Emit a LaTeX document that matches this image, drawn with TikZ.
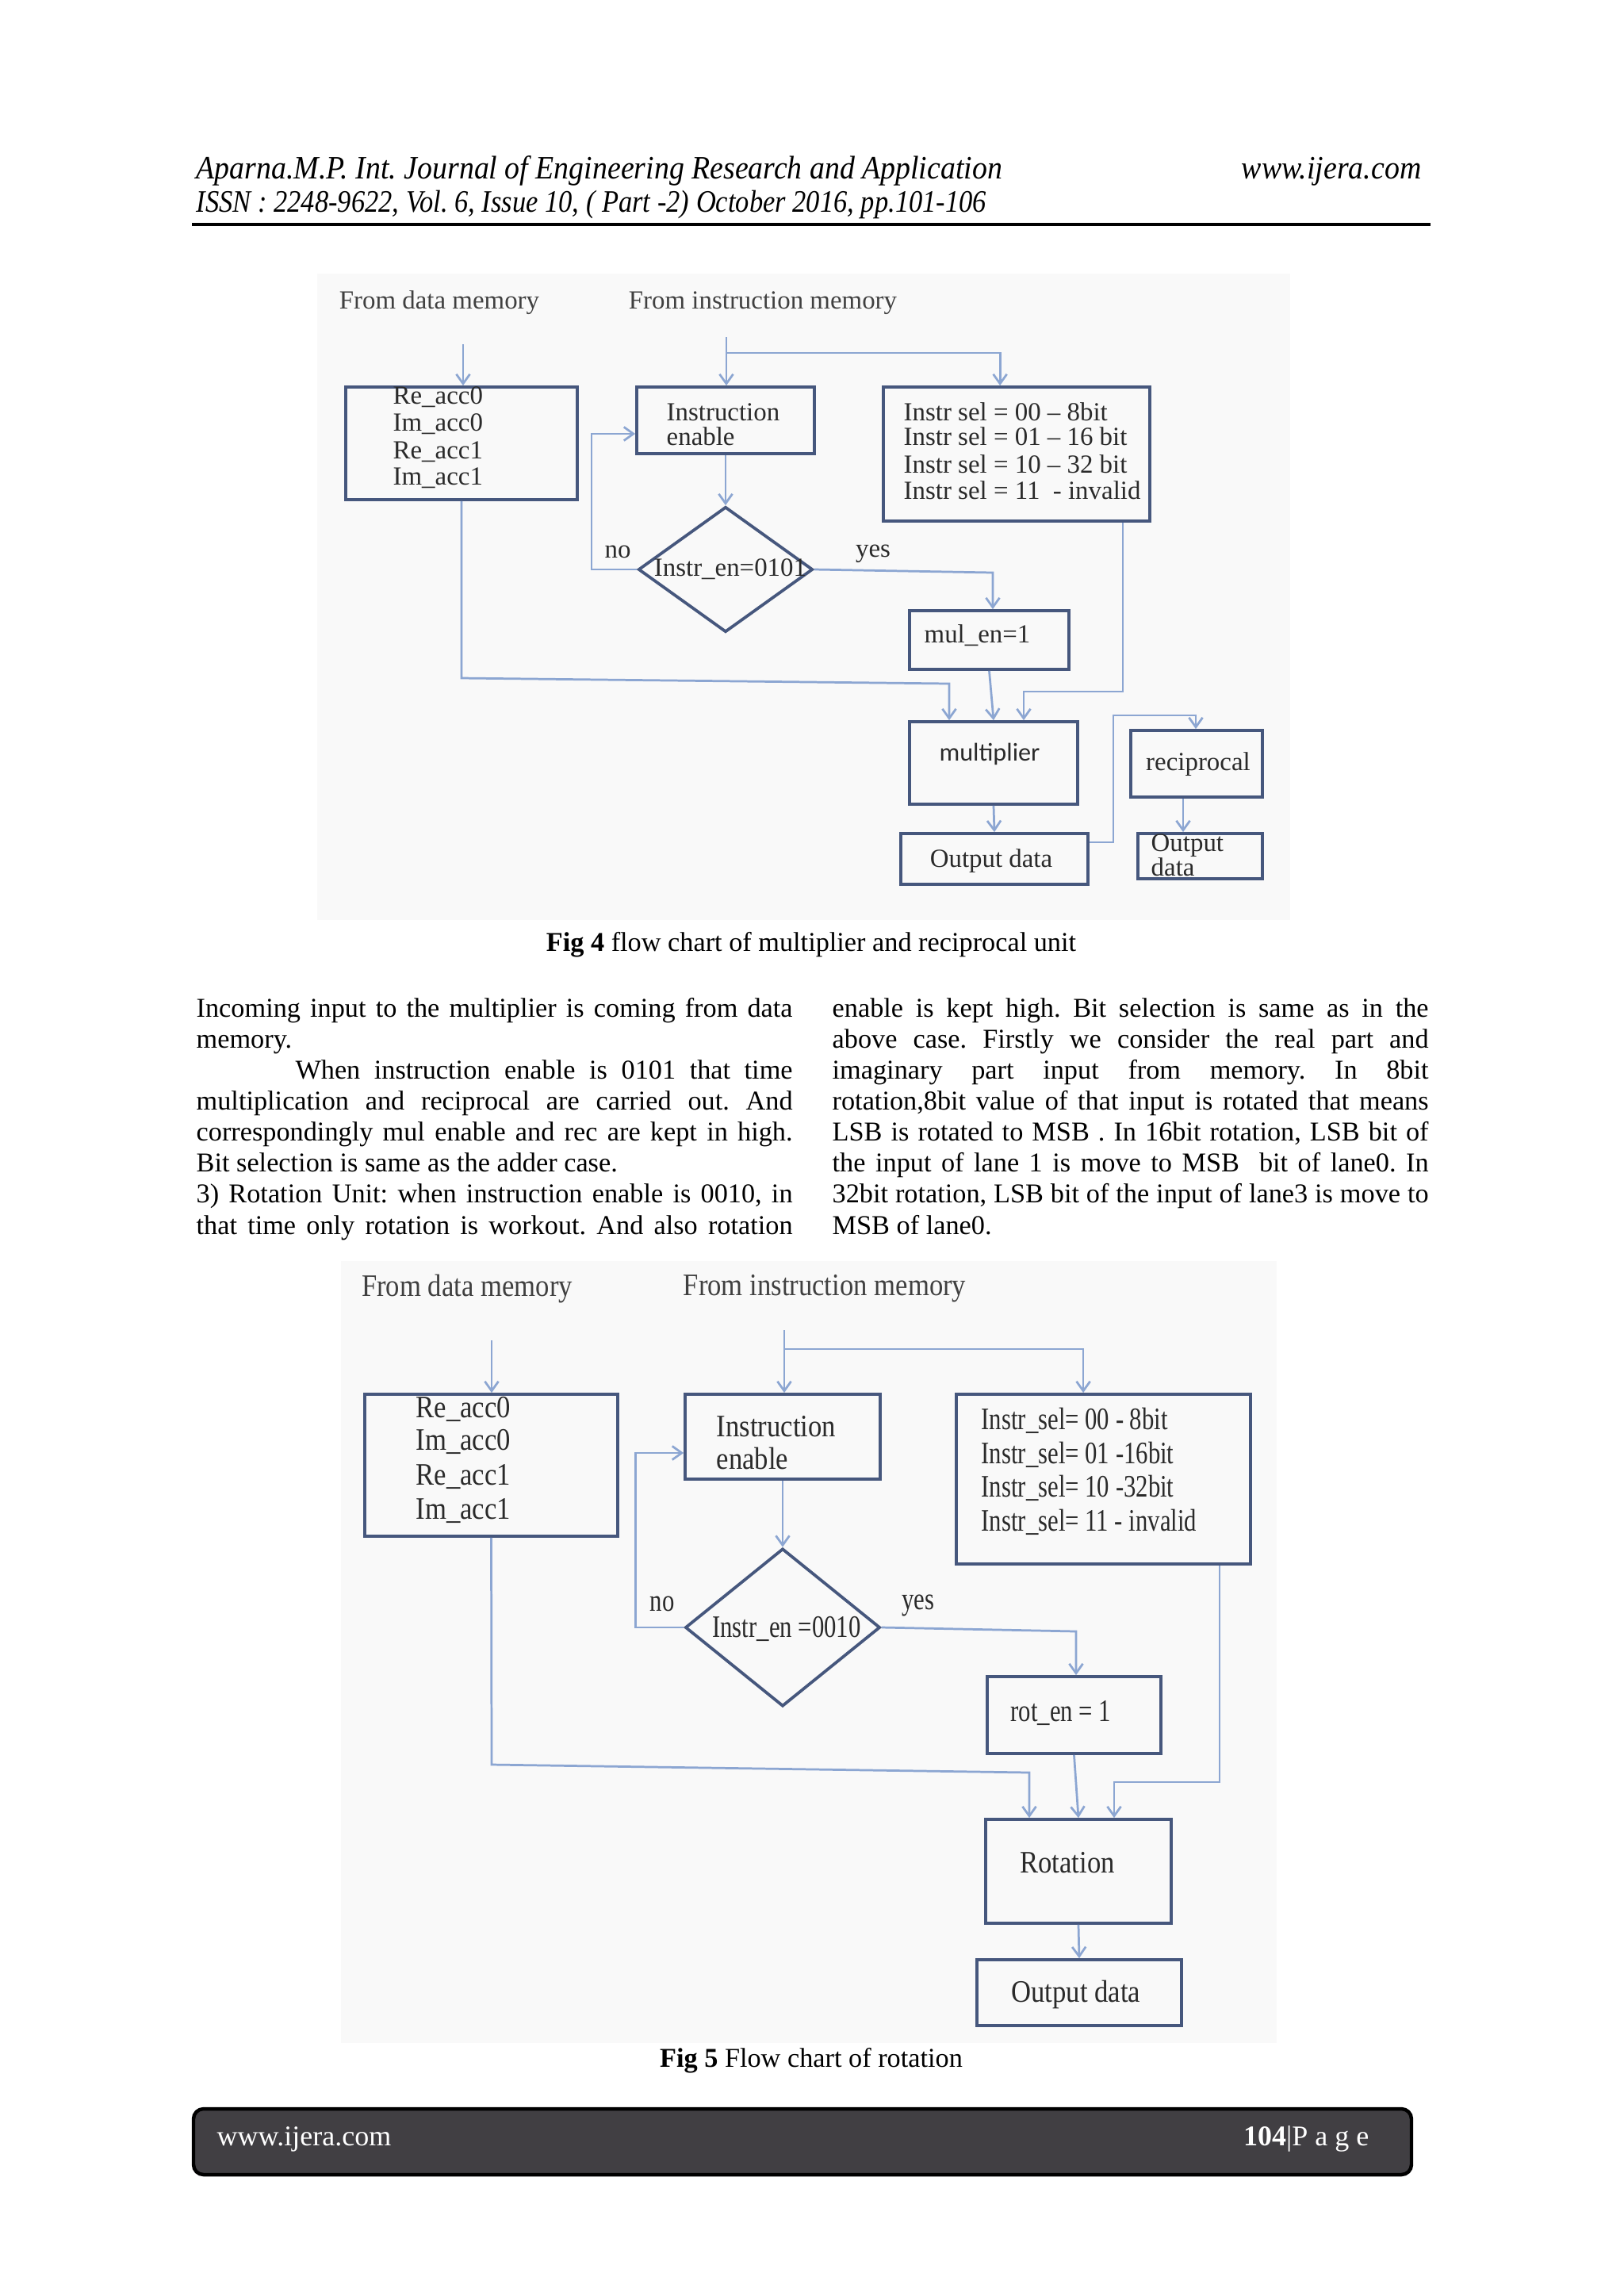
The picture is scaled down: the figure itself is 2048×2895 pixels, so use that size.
\documentclass[tikz,border=0pt]{standalone}
\usepackage{fontspec}
\setmainfont{Liberation Serif}
\newfontfamily\fivefam[FakeStretch=0.88]{Liberation Serif}
\newfontfamily\selfam[FakeStretch=0.78]{Liberation Serif}
\newfontfamily\hdrfam[FakeStretch=0.92]{Liberation Serif}
\newfontfamily\hdrfamb[FakeStretch=0.875]{Liberation Serif}
\newfontfamily\calfam{Carlito}
\usetikzlibrary{arrows.meta,shapes.geometric,fit}
\frenchspacing
\definecolor{boxc}{HTML}{46577D}
\definecolor{linec}{HTML}{8CA6D2}
\definecolor{txtc}{HTML}{2A2A2A}
\definecolor{figbg}{HTML}{F9F9F9}
\definecolor{footc}{HTML}{413F43}
\tikzset{
  box/.style={draw=boxc, line width=1.1pt, inner sep=0pt},
  dia/.style={draw=boxc, line width=1.1pt, shape=diamond, inner sep=0pt},
  conn/.style={draw=linec, line width=0.8pt, -{Straight Barb[length=3.5pt,width=5pt]}},
  ftxt/.style={text=txtc, inner sep=0pt, font=\fontsize{9.6}{11}\selectfont},
  vtxt/.style={text=txtc, inner sep=0pt, font=\fivefam\fontsize{11.5}{13}\selectfont},
  stxt/.style={text=txtc, inner sep=0pt, font=\selfam\fontsize{11.5}{13}\selectfont},
  body/.style={inner sep=0pt, align=left, font=\fontsize{10}{11.4}\selectfont\frenchspacing},
}
\newcommand{\jl}[1]{\makebox[77.1mm][s]{#1}}
\begin{document}
\begin{tikzpicture}[x=0.1025390625mm, y=-0.1025390625mm]
\useasboundingbox (0,0) rectangle (2048,2895);
\fill[white] (0,0) rectangle (2048,2895);
% figure backgrounds
\fill[figbg] (400,345) rectangle (1627,1160);
\fill[figbg] (430,1590) rectangle (1610,2576);

% header
\node[anchor=mid west, inner sep=0pt, font=\hdrfam\itshape\fontsize{12}{14}\selectfont] (h1) at (247,218) {Aparna.M.P. Int. Journal of Engineering Research and Application};
\node[anchor=mid east, inner sep=0pt, font=\hdrfam\itshape\fontsize{12}{14}\selectfont] (h2) at (1793,218) {www.ijera.com};
\node[anchor=mid west, inner sep=0pt, font=\hdrfamb\itshape\fontsize{11.5}{13}\selectfont] (h3) at (247,260) {ISSN : 2248-9622, Vol. 6, Issue 10, ( Part -2) October 2016, pp.101-106};
\draw[line width=1pt] (242,283) -- (1804,283);

% ===== Fig 4 =====
\node[ftxt, text=black!75] (fdm4) at (554,382) {From data memory};
\node[ftxt, text=black!75] (fim4) at (962,382) {From instruction memory};
\node[box, fit={(436,488)(728,630)}] (re4) {};
\node[box, fit={(803,488)(1027,572)}] (ie4) {};
\node[box, fit={(1114,488)(1450,657)}] (is4) {};
\node[dia, minimum width=22.56mm, minimum height=16.2mm] (d4) at (915,718) {};
\node[box, fit={(1147,770)(1348,844)}] (mul4) {};
\node[box, fit={(1147,910)(1359,1014)}] (mu4) {};
\node[box, fit={(1136,1051)(1372,1115)}] (od4) {};
\node[box, fit={(1426,921)(1592,1005)}] (rc4) {};
\node[box, fit={(1435,1051)(1592,1108)}] (od4b) {};

\node[ftxt, anchor=mid west] (t4a) at (495,502) {Re\_acc0};
\node[ftxt, anchor=mid west] (t4b) at (495,536) {Im\_acc0};
\node[ftxt, anchor=mid west] (t4c) at (495,571) {Re\_acc1};
\node[ftxt, anchor=mid west] (t4d) at (495,604) {Im\_acc1};
\node[ftxt, anchor=mid west] (t4e) at (840,523) {Instruction};
\node[ftxt, anchor=mid west] (t4f) at (840,554) {enable};
\node[ftxt, anchor=mid west] (t4g) at (1139,523) {Instr sel = 00 – 8bit};
\node[ftxt, anchor=mid west] (t4h) at (1139,554) {Instr sel = 01 – 16 bit};
\node[ftxt, anchor=mid west] (t4i) at (1139,589) {Instr sel = 10 – 32 bit};
\node[ftxt, anchor=mid west] (t4j) at (1139,622) {Instr sel = 11 \ - invalid};
\node[ftxt] (t4k) at (921,718) {Instr\_en=0101};
\node[ftxt] (t4l) at (779,696) {no};
\node[ftxt] (t4m) at (1101,698) {yes};
\node[ftxt, anchor=mid west] (t4n) at (1165,803) {mul\_en=1};
\node[ftxt, font=\calfam\fontsize{9.4}{11}\selectfont] (t4o) at (1248,951) {multiplier};
\node[ftxt] (t4p) at (1250,1086) {Output data};
\node[ftxt] (t4q) at (1511,964) {reciprocal};
\node[ftxt, anchor=mid west] (t4r) at (1451,1066) {Output};
\node[ftxt, anchor=mid west] (t4s) at (1451,1097) {data};

\coordinate (dm4) at (584,434);
\draw[conn] (dm4) -- (dm4 |- re4.north);
\coordinate (im4) at (916,425);
\draw[conn] (im4) -- (im4 |- ie4.north);
\coordinate (br4) at (916,445);
\draw[conn] (br4) -| ([xshift=15.28mm]is4.north west);
\draw[conn] (ie4.south) -- (d4.north);
\draw[conn] (d4.west) -- ++(-57,0) |- ([yshift=-1.74mm]ie4.west);
\coordinate (y4) at (1252,722);
\draw[conn] (d4.east) -- (y4) -- (y4 |- mul4.north);
\coordinate (c4a) at (582,855);
\coordinate (c4b) at (1197,862);
\draw[conn] (re4.south) -- (c4a) -- (c4b) -- (c4b |- mu4.north);
\draw[conn] (mul4.south) -- (mu4.north);
\coordinate (c4c) at (1416,872);
\coordinate (c4d) at (1291,872);
\draw[conn] (is4.south -| c4c) -- (c4c) -- (c4d) -- (c4d |- mu4.north);
\draw[conn] (mu4.south) -- (od4.north);
\coordinate (c4e) at (1404,902);
\coordinate (c4f) at (1508,902);
\draw[conn] ([yshift=2.15mm]od4.east) -| (c4e) -- (c4f) -- (c4f |- rc4.north);
\draw[conn] ([xshift=-1.74mm]rc4.south) -- ([xshift=-1.74mm]rc4.south |- od4b.north);

\node[inner sep=0pt, font=\fontsize{10}{12}\selectfont] (cap4) at (1023,1191) {\textbf{Fig 4} flow chart of multiplier and reciprocal unit};

% ===== body text =====
\node[body, anchor=base west] (lcol) at (247,1556) {%
\jl{Incoming input to the multiplier is coming from data}\\
memory.\\
\jl{\hspace*{12.8mm}When instruction enable is 0101 that time}\\
\jl{multiplication and reciprocal are carried out. And}\\
\jl{correspondingly mul enable and rec are kept in high.}\\
Bit selection is same as the adder case.\\
\jl{3) Rotation Unit: when instruction enable is 0010, in}\\
\jl{that time only rotation is workout. And also rotation}};
\node[body, anchor=base west] (rcol) at (1049,1556) {%
\jl{enable is kept high. Bit selection is same as in the}\\
\jl{above case. Firstly we consider the real part and}\\
\jl{imaginary part input from memory. In 8bit}\\
\jl{rotation,8bit value of that input is rotated that means}\\
\jl{LSB is rotated to MSB . In 16bit rotation, LSB bit of}\\
\jl{the input of lane 1 is move to MSB\ \ bit of lane0. In}\\
\jl{32bit rotation, LSB bit of the input of lane3 is move to}\\
MSB of lane0.};

% ===== Fig 5 =====
\node[vtxt, text=black!75] (fdm5) at (589,1625) {From data memory};
\node[vtxt, text=black!75] (fim5) at (1040,1625) {From instruction memory};
\node[box, fit={(460,1758)(779,1937)}] (re5) {};
\node[box, fit={(864,1758)(1110,1865)}] (ie5) {};
\node[box, fit={(1206,1758)(1577,1972)}] (is5) {};
\node[dia, minimum width=25.2mm, minimum height=20.4mm] (d5) at (987,2052) {};
\node[box, fit={(1245,2114)(1464,2211)}] (ro5) {};
\node[box, fit={(1243,2294)(1477,2425)}] (rt5) {};
\node[box, fit={(1232,2471)(1490,2554)}] (od5) {};

\node[vtxt, anchor=mid west] (t5a) at (524,1780) {Re\_acc0};
\node[vtxt, anchor=mid west] (t5b) at (524,1821) {Im\_acc0};
\node[vtxt, anchor=mid west] (t5c) at (524,1865) {Re\_acc1};
\node[vtxt, anchor=mid west] (t5d) at (524,1908) {Im\_acc1};
\node[vtxt, anchor=mid west] (t5e) at (903,1804) {Instruction};
\node[vtxt, anchor=mid west] (t5f) at (903,1845) {enable};
\node[stxt, anchor=mid west] (t5g) at (1237,1795) {Instr\_sel= 00 - 8bit};
\node[stxt, anchor=mid west] (t5h) at (1237,1838) {Instr\_sel= 01 -16bit};
\node[stxt, anchor=mid west] (t5i) at (1237,1880) {Instr\_sel= 10 -32bit};
\node[stxt, anchor=mid west] (t5j) at (1237,1923) {Instr\_sel= 11 - invalid};
\node[stxt] (t5k) at (992,2054) {Instr\_en =0010};
\node[stxt] (t5l) at (835,2022) {no};
\node[stxt] (t5m) at (1158,2024) {yes};
\node[stxt, anchor=mid west] (t5n) at (1274,2163) {rot\_en = 1};
\node[vtxt] (t5o) at (1346,2349) {Rotation};
\node[vtxt] (t5p) at (1357,2515) {Output data};

\coordinate (dm5) at (620,1690);
\draw[conn] (dm5) -- (dm5 |- re5.north);
\coordinate (im5) at (989,1677);
\draw[conn] (im5) -- (im5 |- ie5.north);
\coordinate (br5) at (989,1701);
\draw[conn] (br5) -| ([xshift=16.61mm]is5.north west);
\draw[conn] (ie5.south) -- (d5.north);
\draw[conn] (d5.west) -- ++(-61,0) |- ([yshift=-2.1mm]ie5.west);
\coordinate (y5) at (1357,2057);
\draw[conn] (d5.east) -- (y5) -- (y5 |- ro5.north);
\coordinate (c5a) at (620,2225);
\coordinate (c5b) at (1298,2235);
\draw[conn] (re5.south) -- (c5a) -- (c5b) -- (c5b |- rt5.north);
\draw[conn] (ro5.south) -- (rt5.north);
\coordinate (c5c) at (1538,2247);
\coordinate (c5d) at (1405,2247);
\draw[conn] (is5.south -| c5c) -- (c5c) -- (c5d) -- (c5d |- rt5.north);
\draw[conn] (rt5.south) -- (od5.north);

\node[inner sep=0pt, font=\fontsize{10}{12}\selectfont] (cap5) at (1023,2598) {\textbf{Fig 5} Flow chart of rotation};

% footer
\draw[fill=footc, draw=black, line width=1.3pt, rounded corners=1.3mm] (244,2659) rectangle (1780,2742);
\node[anchor=mid west, inner sep=0pt, text=white, font=\fontsize{10.5}{12}\selectfont] (f1) at (273,2698) {www.ijera.com};
\node[anchor=mid east, inner sep=0pt, text=white, font=\fontsize{10.5}{12}\selectfont] (f2) at (1727,2698) {\textbf{104}|P a g e};
\end{tikzpicture}
\end{document}
